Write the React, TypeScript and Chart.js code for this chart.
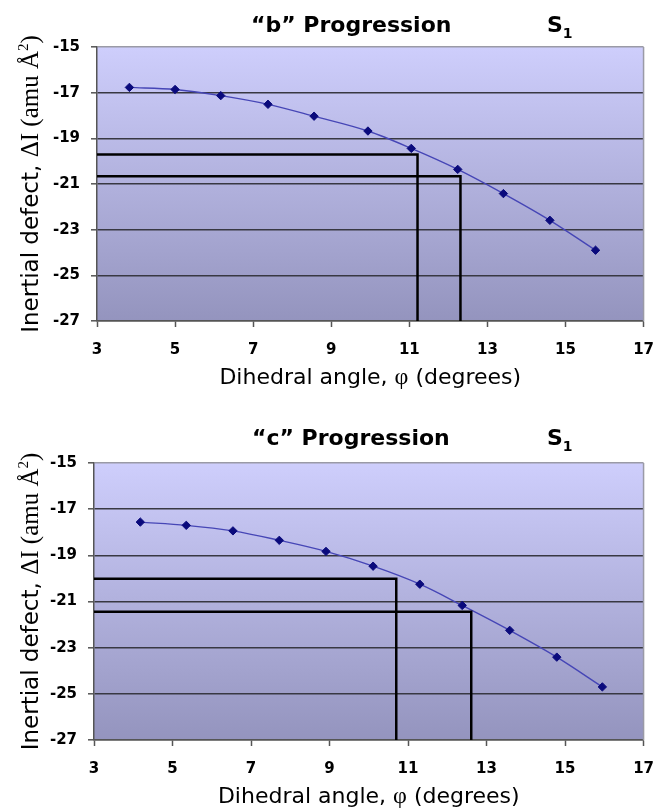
import React, { useEffect, useRef } from "react";
import { Chart, registerables } from "chart.js";
Chart.register(...registerables);

// ---- data ----
const xTicks = [3, 5, 7, 9, 11, 13, 15, 17];
const yTicks = [-15, -17, -19, -21, -23, -25, -27];

const bAngles = [3.83, 5.0, 6.17, 7.38, 8.56, 9.94, 11.05, 12.24, 13.41, 14.6, 15.77];
const bDefects = [-16.77, -16.86, -17.13, -17.51, -18.03, -18.68, -19.44, -20.36, -21.42, -22.59, -23.9];
const bGuideX = [11.21, 12.31];
const bGuideY = [-19.71, -20.66];

const cAngles = [4.18, 5.35, 6.54, 7.72, 8.91, 10.11, 11.3, 12.38, 13.59, 14.79, 15.95];
const cDefects = [-17.56, -17.7, -17.94, -18.35, -18.83, -19.47, -20.25, -21.17, -22.25, -23.41, -24.7];
const cGuideX = [10.7, 12.61];
const cGuideY = [-20.01, -21.44];

const X_MIN = 3, X_MAX = 17, Y_MIN = -27, Y_MAX = -15;

const sans = '"DejaVu Sans", sans-serif';
const serif = '"Liberation Serif", "DejaVu Serif", serif';

type Run = { text: string; font: string; dy?: number };

function runsWidth(ctx: CanvasRenderingContext2D, runs: Run[]) {
  let w = 0;
  for (const r of runs) { ctx.font = r.font; w += ctx.measureText(r.text).width; }
  return w;
}
function drawRuns(ctx: CanvasRenderingContext2D, runs: Run[], x: number, y: number) {
  let cx = x;
  for (const r of runs) {
    ctx.font = r.font;
    ctx.fillText(r.text, cx, y + (r.dy || 0));
    cx += ctx.measureText(r.text).width;
  }
}

const bgPlugin = {
  id: "bgGrad",
  beforeDraw(chart: any) {
    const { ctx, chartArea: a } = chart;
    const g = ctx.createLinearGradient(0, a.top, 0, a.bottom);
    g.addColorStop(0, "rgb(206,206,252)");
    g.addColorStop(1, "rgb(148,148,190)");
    ctx.save();
    ctx.fillStyle = g;
    ctx.fillRect(a.left, a.top, a.right - a.left, a.bottom - a.top);
    ctx.restore();
  },
  afterDatasetsDraw(chart: any) {
    const { ctx, chartArea: a } = chart;
    ctx.save();
    ctx.strokeStyle = "#9a9aa6";
    ctx.lineWidth = 1.5;
    ctx.beginPath();
    ctx.moveTo(a.right, a.top);
    ctx.lineTo(a.right, a.bottom);
    ctx.stroke();
    ctx.restore();
  },
};

function makeTextPlugin(p: any) {
  return {
    id: "texts",
    afterDraw(chart: any) {
      const { ctx, chartArea: a } = chart;
      ctx.save();
      ctx.fillStyle = "#000";
      ctx.textBaseline = "alphabetic";
      ctx.textAlign = "left";
      // title
      drawRuns(ctx, [{ text: "\u201C" + p.letter + "\u201D Progression", font: `bold 22px ${sans}` }], p.titleX, p.titleY);
      drawRuns(ctx, [
        { text: "S", font: `bold 22px ${sans}` },
        { text: "1", font: `bold 14px ${sans}`, dy: 6 },
      ], p.sX, p.titleY);
      // x title
      const xr: Run[] = [
        { text: "Dihedral angle, ", font: `22px ${sans}` },
        { text: "\u03C6", font: `24px ${serif}` },
        { text: " (degrees)", font: `22px ${sans}` },
      ];
      const xw = runsWidth(ctx, xr);
      drawRuns(ctx, xr, (a.left + a.right) / 2 - xw / 2, a.bottom + p.xTitleOff);
      // y title
      const yr: Run[] = [
        { text: "Inertial defect, ", font: `23px ${sans}` },
        { text: "\u0394I (amu \u00C5", font: `25px ${serif}` },
        { text: "2", font: `15px ${serif}`, dy: -10 },
        { text: ")", font: `25px ${serif}` },
      ];
      const yw = runsWidth(ctx, yr);
      ctx.translate(p.yTitleX, (a.top + a.bottom) / 2);
      ctx.rotate(-Math.PI / 2);
      drawRuns(ctx, yr, -yw / 2, 0);
      ctx.restore();
    },
  };
}

function makeConfig(p: any): any {
  const guide = (gx: number, gy: number) => ({
    data: [{ x: X_MIN, y: gy }, { x: gx, y: gy }, { x: gx, y: Y_MIN }],
    showLine: true,
    borderColor: "#000",
    borderWidth: 2.5,
    pointRadius: 0,
    tension: 0,
  });
  const tickFont = { family: sans, weight: "bold", size: 15 };
  return {
    type: "scatter",
    data: {
      datasets: [
        guide(p.guideX[0], p.guideY[0]),
        guide(p.guideX[1], p.guideY[1]),
        {
          data: p.xs.map((x: number, i: number) => ({ x, y: p.ys[i] })),
          showLine: true,
          borderColor: "#4646b6",
          borderWidth: 1.4,
          cubicInterpolationMode: "monotone",
          pointStyle: "rectRot",
          pointRadius: 4.2,
          pointBackgroundColor: "#0a0a7c",
          pointBorderColor: "#0a0a7c",
          pointBorderWidth: 1,
        },
      ],
    },
    options: {
      animation: false,
      responsive: false,
      events: [],
      layout: { padding: { top: p.padTop, right: p.padRight, left: 0, bottom: 0 } },
      plugins: { legend: { display: false }, tooltip: { enabled: false }, title: { display: false } },
      scales: {
        x: {
          type: "linear",
          min: X_MIN,
          max: X_MAX,
          afterBuildTicks: (s: any) => { s.ticks = xTicks.map((v) => ({ value: v })); },
          afterFit: (s: any) => { s.height = p.xAxisH; },
          grid: { drawOnChartArea: false, drawTicks: true, tickLength: 6, tickColor: "#555", tickWidth: 1.5 },
          border: { color: "#555", width: 1.5 },
          ticks: { font: tickFont, color: "#000", padding: 14, maxRotation: 0, autoSkip: false },
        },
        y: {
          type: "linear",
          min: Y_MIN,
          max: Y_MAX,
          afterBuildTicks: (s: any) => { s.ticks = yTicks.map((v) => ({ value: v })); },
          afterFit: (s: any) => { s.width = p.yAxisW; },
          grid: {
            color: (c: any) => (c.tick && c.tick.value === Y_MAX ? "#9a9aa6" : c.tick && c.tick.value === Y_MIN ? "#555" : "#383842"),
            lineWidth: 1.6,
            tickLength: 6,
            tickColor: "#555",
            tickWidth: 1.5,
          },
          border: { color: "#555", width: 1.5 },
          ticks: { font: tickFont, color: "#000", padding: 11, autoSkip: false },
        },
      },
    },
    plugins: [bgPlugin, makeTextPlugin(p)],
  };
}

const topParams = {
  letter: "b",
  xs: bAngles, ys: bDefects, guideX: bGuideX, guideY: bGuideY,
  padTop: 47, padRight: 12, yAxisW: 97, xAxisH: 84,
  titleX: 251, titleY: 32, sX: 547, xTitleOff: 62.5, yTitleX: 38,
};
const botParams = {
  letter: "c",
  xs: cAngles, ys: cDefects, guideX: cGuideX, guideY: cGuideY,
  padTop: 58, padRight: 13, yAxisW: 94, xAxisH: 71,
  titleX: 252, titleY: 40, sX: 547, xTitleOff: 62.5, yTitleX: 38,
};

function PanelChart({ params, height }: { params: any; height: number }) {
  const ref = useRef<HTMLCanvasElement>(null);
  useEffect(() => {
    if (!ref.current) return;
    const chart = new Chart(ref.current, makeConfig(params));
    return () => chart.destroy();
  }, [params]);
  return <canvas ref={ref} width={668} height={height} style={{ display: "block", width: 668, height }} />;
}

export default function App() {
  return (
    <div style={{ position: "absolute", left: 0, top: 0, width: 668, height: 811, background: "#fff" }}>
      <PanelChart params={topParams} height={405} />
      <PanelChart params={botParams} height={406} />
    </div>
  );
}
